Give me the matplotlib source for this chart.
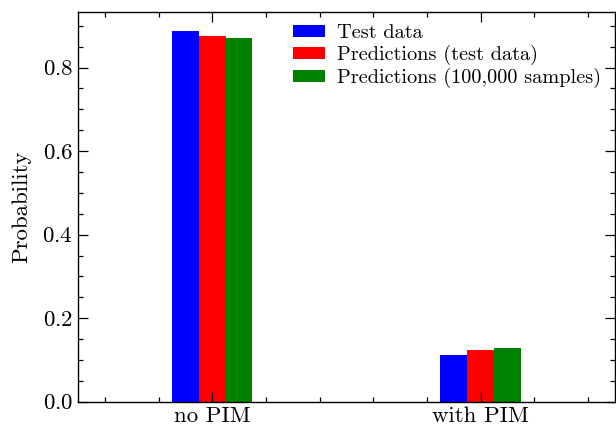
import matplotlib
matplotlib.use("Agg")
import matplotlib.pyplot as plt
import numpy as np
from matplotlib.ticker import MultipleLocator

plt.rcParams['font.family'] = ['cmr10', 'DejaVu Serif']
plt.rcParams['axes.formatter.use_mathtext'] = True
plt.rcParams['mathtext.fontset'] = 'cm'

categories = ["no PIM", "with PIM"]
series_names = ["Test data", "Predictions (test data)", "Predictions (100,000 samples)"]
test_data = [0.888, 0.112]
pred_test = [0.876, 0.124]
pred_samples = [0.871, 0.128]
colors = ["blue", "red", "green"]

fig = plt.figure(figsize=(6.16, 4.30), dpi=100)
ax = fig.add_axes([0.1266, 0.0658, 0.8714, 0.9062])

x = np.arange(len(categories))
w = 0.1
for i, (vals, name, c) in enumerate(zip([test_data, pred_test, pred_samples], series_names, colors)):
    ax.bar(x + (i - 1) * w, vals, width=w, color=c, label=name)

ax.set_xlim(-0.5, 1.5)
ax.set_ylim(0, 0.933)
ax.set_xticks(x)
ax.set_xticklabels(categories)
ax.xaxis.set_minor_locator(MultipleLocator(0.2))
ax.yaxis.set_major_locator(MultipleLocator(0.2))
ax.yaxis.set_minor_locator(MultipleLocator(0.05))
ax.set_ylabel("Probability", fontsize=16.5, labelpad=8)
ax.tick_params(which='both', direction='in', top=True, right=True, labelsize=16.5, width=0.9)
ax.tick_params(which='major', length=7)
ax.tick_params(which='minor', length=3.5)
for s in ax.spines.values():
    s.set_linewidth(1.0)

ax.legend(loc='upper right', frameon=False, fontsize=14.6, handlelength=1.55,
          handleheight=0.5, handletextpad=0.62, labelspacing=0.14,
          borderpad=0.3, bbox_to_anchor=(1.005, 1.01))

fig.savefig("out.png", dpi=100)
